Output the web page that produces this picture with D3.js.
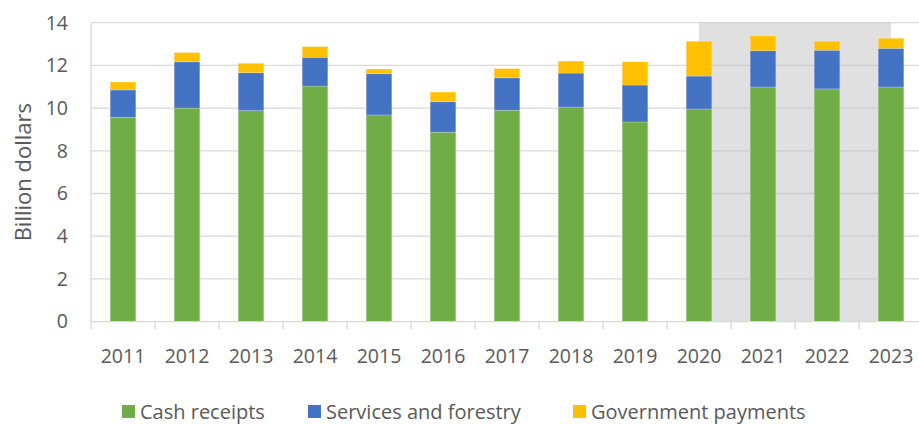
<!DOCTYPE html>
<html>
<head>
<meta charset="utf-8">
<script src="https://cdn.jsdelivr.net/npm/d3@7"></script>
<style>
  html, body { margin: 0; padding: 0; background: #fff; }
  svg { display: block; font-family: "Open Sans", sans-serif; }
</style>
</head>
<body>
<div id="chart"></div>
<script>
var years = ["2011", "2012", "2013", "2014", "2015", "2016", "2017", "2018", "2019", "2020", "2021", "2022", "2023"];
var cashReceipts = [9.57, 10.0, 9.88, 11.03, 9.68, 8.87, 9.9, 10.05, 9.35, 9.96, 10.99, 10.9, 10.99];
var servicesForestry = [1.28, 2.17, 1.78, 1.35, 1.93, 1.43, 1.52, 1.59, 1.73, 1.54, 1.70, 1.81, 1.81];
var govPayments = [0.37, 0.43, 0.44, 0.50, 0.22, 0.45, 0.43, 0.56, 1.09, 1.63, 0.69, 0.42, 0.47];
var seriesNames = ["Cash receipts", "Services and forestry", "Government payments"];
var seriesColors = ["#70ad47", "#4472c4", "#ffc000"];
var yTicks = [0, 2, 4, 6, 8, 10, 12, 14];
var shadeFrom = "2020", shadeTo = "2023";

var W = 919, H = 424;
var plotLeft = 91, plotRight = 923, plotTop = 22.7, plotBottom = 321.6;

var svg = d3.select("#chart").append("svg")
    .attr("width", W)
    .attr("height", H);

var x = d3.scaleBand()
    .domain(years)
    .range([plotLeft, plotRight])
    .paddingInner(0.6)
    .paddingOuter(0.3);

var y = d3.scaleLinear()
    .domain([0, 14])
    .range([plotBottom, plotTop]);

// Horizontal gridlines
svg.append("g")
    .selectAll("line")
    .data(yTicks.slice(1))
    .enter().append("line")
    .attr("x1", plotLeft).attr("x2", plotRight)
    .attr("y1", function(d) { return y(d); })
    .attr("y2", function(d) { return y(d); })
    .attr("stroke", "#d9d9d9")
    .attr("stroke-width", 1.3);

// Shaded projection band
svg.append("rect")
    .attr("x", x(shadeFrom) + x.bandwidth() / 2)
    .attr("width", x(shadeTo) - x(shadeFrom))
    .attr("y", y(14))
    .attr("height", y(0) - y(14))
    .attr("fill", "#bfbfbf")
    .attr("fill-opacity", 0.48);

// Stacked bars
var rows = years.map(function(yr, i) {
  return { year: yr, a: cashReceipts[i], b: servicesForestry[i], c: govPayments[i] };
});
var layers = d3.stack().keys(["a", "b", "c"])(rows);

svg.append("g")
    .selectAll("g")
    .data(layers)
    .enter().append("g")
    .attr("fill", function(d, i) { return seriesColors[i]; })
    .selectAll("rect")
    .data(function(d) { return d; })
    .enter().append("rect")
    .attr("x", function(d) { return x(d.data.year); })
    .attr("width", x.bandwidth())
    .attr("y", function(d) { return y(d[1]); })
    .attr("height", function(d) { return y(d[0]) - y(d[1]); })
    .attr("stroke", "rgba(255,255,255,0.25)")
    .attr("stroke-width", 0.8);

// Left axis line
svg.append("line")
    .attr("x1", plotLeft).attr("x2", plotLeft)
    .attr("y1", plotTop).attr("y2", plotBottom)
    .attr("stroke", "#d9d9d9")
    .attr("stroke-width", 1.3);

// Category axis with ticks between bands
var xAxis = svg.append("g").attr("transform", "translate(0," + plotBottom + ")");
xAxis.append("line")
    .attr("x1", plotLeft).attr("x2", plotRight)
    .attr("stroke", "#d9d9d9")
    .attr("stroke-width", 1.3);
xAxis.selectAll("line.tick")
    .data(d3.range(years.length + 1))
    .enter().append("line")
    .attr("class", "tick")
    .attr("x1", function(i) { return plotLeft + i * (plotRight - plotLeft) / years.length; })
    .attr("x2", function(i) { return plotLeft + i * (plotRight - plotLeft) / years.length; })
    .attr("y1", 0).attr("y2", 7.5)
    .attr("stroke", "#d9d9d9")
    .attr("stroke-width", 1.3);
xAxis.selectAll("text")
    .data(years)
    .enter().append("text")
    .attr("x", function(d) { return x(d) + x.bandwidth() / 2; })
    .attr("y", 41)
    .attr("text-anchor", "middle")
    .attr("fill", "#595959")
    .style("font-size", "19.5px")
    .text(function(d) { return d; });

// Value axis labels
svg.append("g")
    .selectAll("text")
    .data(yTicks)
    .enter().append("text")
    .attr("x", 68)
    .attr("y", function(d) { return y(d); })
    .attr("dy", "0.35em")
    .attr("text-anchor", "end")
    .attr("fill", "#595959")
    .style("font-size", "19.5px")
    .text(function(d) { return d; });

svg.append("text")
    .attr("transform", "translate(31," + ((plotTop + plotBottom) / 2) + ") rotate(-90)")
    .attr("text-anchor", "middle")
    .attr("fill", "#595959")
    .style("font-size", "22px")
    .text("Billion dollars");

// Legend
var legendX = [122, 308, 573];
var legend = svg.append("g")
    .selectAll("g")
    .data(seriesNames)
    .enter().append("g")
    .attr("transform", function(d, i) { return "translate(" + legendX[i] + ",405)"; });
legend.append("rect")
    .attr("width", 13).attr("height", 13)
    .attr("fill", function(d, i) { return seriesColors[i]; });
legend.append("text")
    .attr("x", 18)
    .attr("y", 6.5)
    .attr("dy", "0.35em")
    .attr("fill", "#595959")
    .style("font-size", "20px")
    .text(function(d) { return d; });
</script>
</body>
</html>
